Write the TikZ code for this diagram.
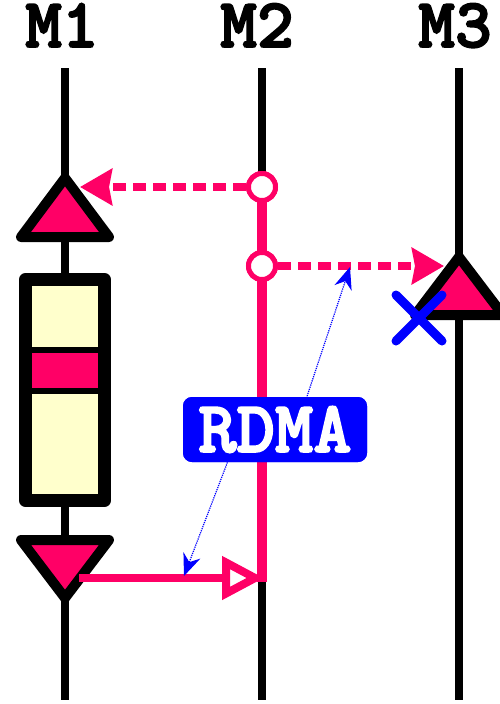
\documentclass[tikz,border=0pt]{standalone}
\usepackage{fontspec}
\newfontfamily\labfont{lmmonolt10-bold}[Extension=.otf, FakeBold=2.5]
\usetikzlibrary{arrows.meta}
\definecolor{hotpink}{RGB}{255,0,102}
\definecolor{paleyel}{RGB}{255,255,204}
\definecolor{rdmablue}{RGB}{0,0,255}

\begin{document}
\begin{tikzpicture}[
  x=1pt, y=-1pt,
  lbl/.style={font=\fontsize{70}{70}\selectfont\labfont, anchor=base, inner sep=0pt},
  life/.style={line width=8pt},
  tri/.style={draw, fill=hotpink, line width=10pt, line join=round},
  ring/.style={circle, draw=hotpink, fill=white, line width=5pt, minimum size=27pt, inner sep=0pt},
  msg/.style={hotpink, line width=8pt, dash pattern=on 13pt off 7pt,
              -{Stealth[length=32pt, width=36pt, inset=3pt]}},
  ret/.style={hotpink, line width=8pt, -{Triangle[length=42pt, width=42pt, fill=white]}},
  blk/.style={draw, fill=paleyel, line width=13pt, line join=round,
              minimum width=79pt, minimum height=221pt, inner sep=0pt},
  band/.style={draw, fill=hotpink, line width=6pt, minimum width=72pt,
               minimum height=41pt, inner sep=0pt},
  note/.style={densely dotted, rdmablue, line width=1.2pt, -{Stealth[length=22pt, width=18pt]}},
  tag/.style={fill=rdmablue, text=white, rounded corners=9pt, minimum width=184pt,
              minimum height=65pt, inner sep=0pt,
              font=\fontsize{73}{73}\selectfont\labfont},
]
  \useasboundingbox (0,0) rectangle (500,704);

  % machines
  \node[lbl] (m1) at (62,47) {M1};
  \node[lbl] (m2) at (257,47) {M2};
  \node[lbl] (m3) at (455,47) {M3};

  \coordinate (t1) at (65,68);  \coordinate (b1) at (65,700);
  \coordinate (t2) at (262,68); \coordinate (b2) at (262,700);
  \coordinate (t3) at (459,68); \coordinate (b3) at (459,700);
  \draw[life] (t1) -- (b1);
  \draw[life] (t2) -- (b2);
  \draw[life] (t3) -- (b3);

  % M1
  \draw[tri] (65,178) -- (109,237) -- (21,237) -- cycle;
  \node[blk] (box) at (65,390) {};
  \node[band] (crit) at (65,370.5) {};
  \draw[tri] (21,540) -- (109,540) -- (65,598) -- cycle;

  % M3
  \draw[tri] (459,257) -- (503,315) -- (415,315) -- cycle;

  % M2
  \node[ring] (c1) at (262,187) {};
  \node[ring] (c2) at (262,266) {};
  \coordinate (j2) at (262,582);
  \coordinate (a1) at (80,187);
  \coordinate (a2) at (444,266);
  \coordinate (s1) at (79,578);
  \coordinate (e1) at (264,578);
  \draw[hotpink, line width=10pt] (262,187) -- (j2);
  \draw[ret] (s1) -- (e1);
  \node[ring] at (c1) {};
  \node[ring] at (c2) {};
  \draw[msg] (c1) -- (a1);
  \draw[msg] (c2) -- (a2);

  % failure
  \draw[rdmablue, line width=9pt, line cap=round] (396,295) -- (442,341) (396,341) -- (442,295);

  % annotations
  \coordinate (r1) at (350,267);
  \coordinate (r2) at (184,576);
  \node[tag] (rdma) at (275,429.5) {\phantom{RDMA}};
  \draw[note] ([xshift=21pt]rdma.center) -- (r1);
  \draw[note] ([xshift=-35pt]rdma.center) -- (r2);
  \node[tag] at (rdma) {RDMA};
\end{tikzpicture}
\end{document}
